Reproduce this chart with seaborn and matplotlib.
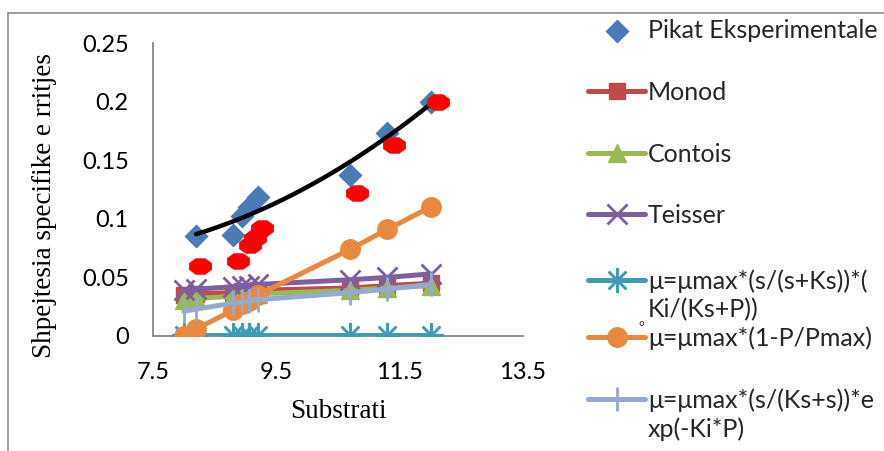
import numpy as np
import pandas as pd
import matplotlib
matplotlib.use("Agg")
import matplotlib.pyplot as plt
import seaborn as sns
from matplotlib.path import Path
from matplotlib.lines import Line2D

# ---------------- data ----------------
exp_s = [8.2, 8.8, 8.95, 9.05, 9.2, 10.7, 11.3, 12.0]
exp_mu = [0.085, 0.086, 0.102, 0.110, 0.119, 0.137, 0.173, 0.200]

red_s = [8.27, 8.88, 9.07, 9.15, 9.27, 10.8, 11.41, 12.12]
red_mu = [0.060, 0.064, 0.078, 0.084, 0.092, 0.122, 0.163, 0.200]

model_s = [8.0, 8.2, 8.8, 8.95, 9.05, 9.2, 10.7, 11.3, 12.0]
monod = [0.035, 0.036, 0.037, 0.038, 0.038, 0.039, 0.041, 0.043, 0.045]
contois = [0.031, 0.032, 0.034, 0.035, 0.035, 0.036, 0.039, 0.041, 0.043]
teisser = [0.039, 0.040, 0.042, 0.043, 0.043, 0.044, 0.048, 0.050, 0.053]
inhib = [0.001, 0.001, 0.001, 0.001, 0.001, 0.001, 0.001, 0.001, 0.001]
pmax = [0.0, 0.006, 0.022, 0.027, 0.030, 0.035, 0.074, 0.091, 0.110]
expo = [0.021, 0.023, 0.028, 0.029, 0.030, 0.031, 0.037, 0.040, 0.044]

labels = ["Pikat Eksperimentale", "Monod", "Contois", "Teisser",
          "μ=μmax*(s/(s+Ks))*(\nKi/(Ks+P))", "μ=μmax*(1-P/Pmax)",
          "μ=μmax*(s/(Ks+s))*e\nxp(-Ki*P)"]

yticks = [0, 0.05, 0.1, 0.15, 0.2, 0.25]
yticklabels = ["0", "0.05", "0.1", "0.15", "0.2", "0.25"]
xticks = [7.5, 9.5, 11.5, 13.5]
xticklabels = ["7.5", "9.5", "11.5", "13.5"]

# ---------------- style ----------------
sns.set_theme(style="white")
plt.rcParams["font.family"] = ["Lato", "DejaVu Sans"]

W, H = 884, 451
fig = plt.figure(figsize=(W / 100, H / 100), dpi=100)
ax = fig.add_axes([153 / W, 1 - 336 / H, 370 / W, 293 / H])

c_exp = "#4A7BB7"
c_monod = "#BE4B48"
c_contois = "#98B954"
c_teisser = "#7D5FA0"
c_inhib = "#3F9CB4"
c_pmax = "#E8893F"
c_expo = "#94AAD2"

# experimental points
h_exp = ax.scatter(exp_s, exp_mu, marker="D", s=150, color=c_exp,
                   edgecolor=c_exp, linewidth=0, zorder=2)

lw = 3.6
h_monod, = ax.plot(model_s, monod, color=c_monod, lw=lw, marker="s",
                   ms=12, mfc=c_monod, mec=c_monod, zorder=3)
h_contois, = ax.plot(model_s, contois, color=c_contois, lw=lw, marker="^",
                     ms=13, mfc=c_contois, mec=c_contois, zorder=4)
h_teisser, = ax.plot(model_s, teisser, color=c_teisser, lw=lw, marker="x",
                     ms=14, mew=2, mec=c_teisser, zorder=5)
h_inhib, = ax.plot(model_s, inhib, color=c_inhib, lw=lw, marker=(8, 2, 0),
                   ms=18, mew=1.8, mec=c_inhib, zorder=6)
h_pmax, = ax.plot(model_s, pmax, color=c_pmax, lw=lw, marker="o",
                  ms=14, mfc=c_pmax, mec=c_pmax, zorder=7)
h_expo, = ax.plot(model_s, expo, color=c_expo, lw=lw, marker="|",
                  ms=17, mew=2, mec=c_expo, zorder=8)

# polynomial trendline through the experimental points
coef = np.polyfit(exp_s, exp_mu, 2)
xs = np.linspace(min(exp_s), max(exp_s), 100)
sns.lineplot(x=xs, y=np.polyval(coef, xs), color="black", lw=3.2,
             ax=ax, zorder=9)

# red points (elongated octagons)
ang = np.linspace(0, 2 * np.pi, 9)[:-1] + np.pi / 8
verts = np.column_stack([np.cos(ang) * 1.0, np.sin(ang) * 0.72])
verts = np.vstack([verts, verts[0]])
codes = [Path.MOVETO] + [Path.LINETO] * 7 + [Path.CLOSEPOLY]
oct_marker = Path(verts, codes)
ax.scatter(red_s, red_mu, marker=oct_marker, s=270, color="#FF0000",
           linewidth=0, zorder=10)

# ---------------- axes ----------------
ax.set_xlim(7.5, 13.5)
ax.set_ylim(0, 0.25)
ax.set_xticks(xticks)
ax.set_xticklabels(xticklabels)
ax.set_yticks(yticks)
ax.set_yticklabels(yticklabels)
for sp in ["top", "right"]:
    ax.spines[sp].set_visible(False)
for sp in ["left", "bottom"]:
    ax.spines[sp].set_color("#868686")
    ax.spines[sp].set_linewidth(1.3)
ax.tick_params(axis="both", direction="out", length=6, width=1.3,
               color="#868686", labelsize=17, labelcolor="black")
ax.tick_params(axis="y", pad=11.5)
ax.tick_params(axis="x", pad=13)
ax.grid(False)
ax.set_facecolor("white")

ax.set_ylabel("Shpejtesia specifike e rritjes", fontsize=19.5,
              family=["Liberation Serif"], color="black")
ax.yaxis.set_label_coords(-0.259, 0.447)
ax.set_xlabel("Substrati", fontsize=19.5, family=["Liberation Serif"],
              color="black")
ax.xaxis.set_label_coords(0.5, -0.215)

# ---------------- legend (one entry per row) ----------------
handles = [h_exp, h_monod, h_contois, h_teisser, h_inhib, h_pmax, h_expo]
rows_y = [30, 92, 154, 215, 281, 338, 400]
fs = 18
fs_px = fs * 100 / 72
for h, lab, ry in zip(handles, labels, rows_y):
    parts = lab.split("\n")
    leg = fig.legend([h], [parts[0]], loc="center left",
                     bbox_to_anchor=(588 / W, 1 - ry / H),
                     frameon=False, fontsize=fs, borderpad=0,
                     borderaxespad=0, handlelength=57 / fs_px,
                     handletextpad=3 / fs_px, markerscale=1.0,
                     scatterpoints=1)
    for k, extra in enumerate(parts[1:], start=1):
        fig.text(648 / W, 1 - (ry + 29 * k) / H, extra, fontsize=fs,
                 ha="left", va="center")

fig.text(641 / W, 1 - 327 / H, "°", fontsize=10, ha="center", va="center")

# chart-area border
fig.add_artist(Line2D([8 / W, 8 / W], [0, 1 - 13 / H], color="#8c8c8c",
                      lw=1.2, transform=fig.transFigure))
fig.add_artist(Line2D([8 / W, 1], [1 - 13 / H, 1 - 13 / H], color="#8c8c8c",
                      lw=1.2, transform=fig.transFigure))

fig.savefig("out.png", dpi=100)
